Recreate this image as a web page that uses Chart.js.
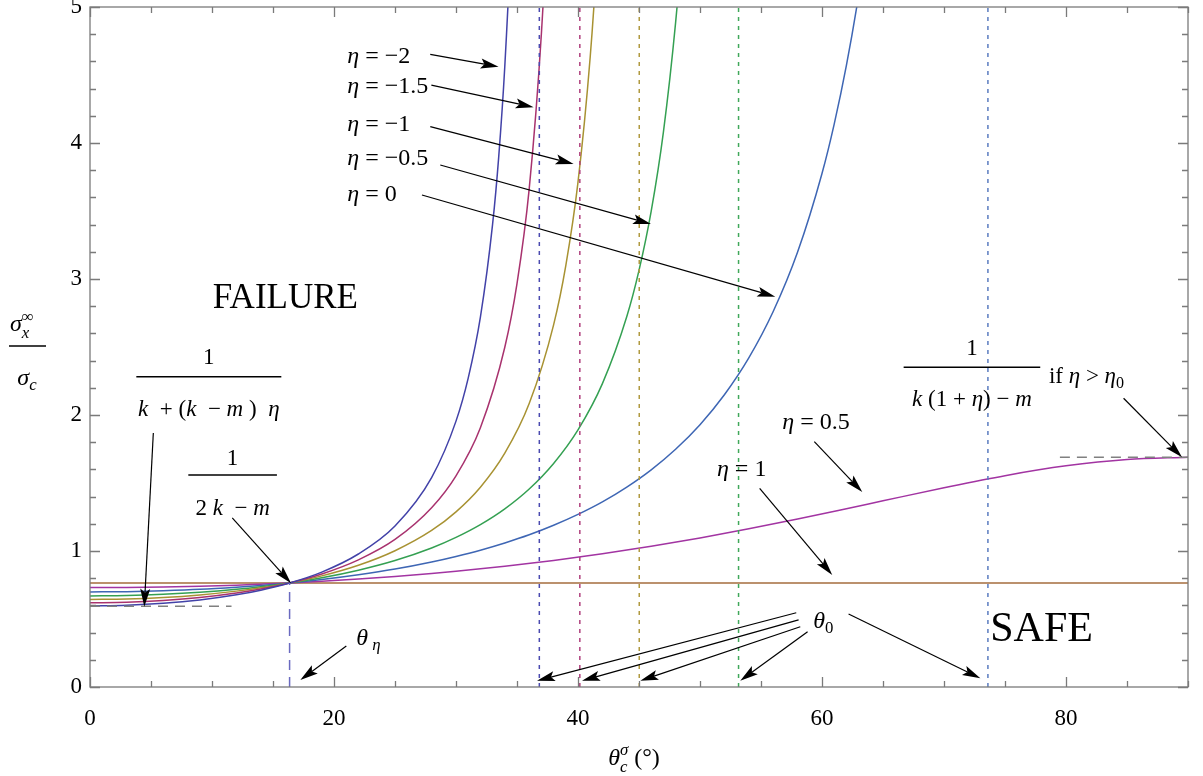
<!DOCTYPE html>
<html>
<head>
<meta charset="utf-8">
<script src="https://cdn.jsdelivr.net/npm/chart.js@4/dist/chart.umd.min.js"></script>
<style>
  html, body { margin: 0; padding: 0; background: #fff; }
  #wrap { width: 1203px; height: 776px; }
</style>
</head>
<body>
<div id="wrap"><canvas id="grafico" width="1203" height="776"></canvas></div>
<script>
const grafico = document.getElementById('grafico');
const fonte = '"Liberation Serif", "Times New Roman", serif';

// ticks
const xTicks = [0, 20, 40, 60, 80];
const yTicks = [0, 1, 2, 3, 4, 5];

// one curve per eta
const etaNames = ['−2', '−1.5', '−1', '−0.5', '0', '0.5', '1'];
const curveColors = ['#4242a8', '#a8326e', '#a89232', '#34a052', '#3e66b4', '#a234a2', '#a46c3c'];

const thetaEtaM2 = [0, 3, 6, 9, 12, 14, 16.36, 19, 22, 25, 28, 30, 31, 32, 33, 33.5, 34, 34.5, 35];
const sigmaEtaM2 = [0.596, 0.601, 0.615, 0.640, 0.678, 0.712, 0.765, 0.845, 0.978, 1.184, 1.540, 1.955, 2.271, 2.719, 3.403, 3.896, 4.564, 5.513, 6.99];

const thetaEtaM15 = [0, 3, 6, 9, 12, 14, 16.36, 19, 22, 25, 28, 30, 32, 34, 35, 36, 37, 37.5, 38];
const sigmaEtaM15 = [0.619, 0.623, 0.636, 0.658, 0.691, 0.721, 0.765, 0.831, 0.935, 1.085, 1.318, 1.553, 1.907, 2.498, 2.966, 3.663, 4.805, 5.698, 7.01];

const thetaEtaM1 = [0, 3, 6, 9, 12, 14, 16.36, 19, 22, 25, 28, 30, 32, 34, 36, 38, 39, 40, 41, 41.5, 42];
const sigmaEtaM1 = [0.644, 0.647, 0.658, 0.677, 0.705, 0.729, 0.765, 0.817, 0.895, 1.002, 1.151, 1.288, 1.469, 1.719, 2.084, 2.663, 3.099, 3.712, 4.632, 5.288, 6.17];

const thetaEtaM05 = [0, 3, 6, 9, 12, 14, 16.36, 19, 22, 25, 28, 30, 32, 34, 36, 38, 40, 42, 44, 45, 46, 47, 48, 48.5, 49];
const sigmaEtaM05 = [0.670, 0.673, 0.682, 0.697, 0.719, 0.738, 0.765, 0.803, 0.859, 0.930, 1.022, 1.100, 1.194, 1.310, 1.456, 1.644, 1.891, 2.231, 2.724, 3.063, 3.499, 4.080, 4.885, 5.423, 6.090];

const thetaEta0 = [0, 3, 6, 9, 12, 14, 16.36, 19, 22, 25, 28, 30, 32, 34, 36, 38, 40, 42, 44, 46, 48, 50, 52, 54, 56, 58, 60, 61, 62, 63, 64];
const sigmaEta0 = [0.699, 0.701, 0.708, 0.718, 0.734, 0.747, 0.765, 0.790, 0.825, 0.867, 0.919, 0.960, 1.006, 1.059, 1.119, 1.189, 1.269, 1.361, 1.470, 1.597, 1.748, 1.929, 2.149, 2.420, 2.761, 3.198, 3.776, 4.139, 4.570, 5.086, 5.717];

const thetaEta05 = [0, 3, 6, 9, 12, 14, 16.36, 19, 22, 25, 28, 30, 34, 38, 42, 46, 50, 54, 58, 62, 65, 70, 75, 80, 85, 90];
const sigmaEta05 = [0.731, 0.732, 0.735, 0.741, 0.749, 0.756, 0.765, 0.777, 0.794, 0.813, 0.835, 0.851, 0.888, 0.931, 0.980, 1.035, 1.096, 1.163, 1.235, 1.311, 1.369, 1.465, 1.554, 1.626, 1.673, 1.690];

const thetaEta1 = [0, 90];
const sigmaEta1 = [0.765, 0.765];

// critical angles and limits
const theta0 = [36.83, 40.15, 45.02, 53.16, 73.6];
const theta0Colors = ['#4a4ab0', '#b0407e', '#b09a40', '#40a85a', '#5a7cc0'];
const thetaEta = 16.36;
const sigmaCross = 0.765;
const lowLimit = 0.594;
const lowLimitEnd = 11.6;
const highLimit = 1.69;
const highLimitStart = 79.5;

const curveTheta = [thetaEtaM2, thetaEtaM15, thetaEtaM1, thetaEtaM05, thetaEta0, thetaEta05, thetaEta1];
const curveSigma = [sigmaEtaM2, sigmaEtaM15, sigmaEtaM1, sigmaEtaM05, sigmaEta0, sigmaEta05, sigmaEta1];

const pontos = (xs, ys) => xs.map((x, i) => ({ x: x, y: ys[i] }));

const datasets = [];

theta0.forEach((t, i) => {
    datasets.push({
        data: [{ x: t, y: 0 }, { x: t, y: 5 }],
        borderColor: theta0Colors[i],
        borderWidth: 1.5,
        borderDash: [4, 5],
        pointRadius: 0
    });
});

datasets.push({
    data: [{ x: thetaEta, y: 0 }, { x: thetaEta, y: sigmaCross }],
    borderColor: '#6a6ac0',
    borderWidth: 1.5,
    borderDash: [10, 7],
    pointRadius: 0
});
datasets.push({
    data: [{ x: 0, y: lowLimit }, { x: lowLimitEnd, y: lowLimit }],
    borderColor: '#808080',
    borderWidth: 1.5,
    borderDash: [10, 7],
    pointRadius: 0
});
datasets.push({
    data: [{ x: highLimitStart, y: highLimit }, { x: 90, y: highLimit }],
    borderColor: '#808080',
    borderWidth: 1.5,
    borderDash: [10, 7],
    pointRadius: 0
});

etaNames.forEach((nome, i) => {
    datasets.push({
        label: 'η = ' + nome,
        data: pontos(curveTheta[i], curveSigma[i]),
        borderColor: curveColors[i],
        borderWidth: 1.5,
        pointRadius: 0,
        cubicInterpolationMode: 'monotone'
    });
});

// text with italic / sub / superscript pieces
function fontOf(p, size) {
    return (p.it ? 'italic ' : '') + (size * (p.s || 1)).toFixed(1) + 'px ' + fonte;
}
function drawRich(ctx, x, yMid, parts, size, align) {
    let w = 0, prev = 0;
    parts.forEach(p => {
        ctx.font = fontOf(p, size);
        p._w = ctx.measureText(p.t).width;
        w += p.back ? Math.max(0, p._w - prev) : p._w;
        prev = p._w;
    });
    let cx = align === 'center' ? x - w / 2 : (align === 'right' ? x - w : x);
    const base = yMid + size * 0.33;
    let start = cx;
    prev = 0;
    ctx.textAlign = 'left';
    ctx.textBaseline = 'alphabetic';
    parts.forEach(p => {
        ctx.font = fontOf(p, size);
        if (p.back) {
            ctx.fillText(p.t, start, base + (p.dy || 0) * size);
            cx = start + Math.max(prev, p._w);
        } else {
            start = cx;
            ctx.fillText(p.t, cx, base + (p.dy || 0) * size);
            cx += p._w;
        }
        prev = p._w;
    });
}
function arrow(ctx, x1, y1, x2, y2) {
    const ang = Math.atan2(y2 - y1, x2 - x1);
    const len = 18, half = 5;
    ctx.beginPath();
    ctx.moveTo(x1, y1);
    ctx.lineTo(x2 - Math.cos(ang) * len * 0.8, y2 - Math.sin(ang) * len * 0.8);
    ctx.stroke();
    ctx.beginPath();
    ctx.moveTo(x2, y2);
    ctx.lineTo(x2 - Math.cos(ang) * len - Math.sin(ang) * half, y2 - Math.sin(ang) * len + Math.cos(ang) * half);
    ctx.lineTo(x2 - Math.cos(ang) * len * 0.8, y2 - Math.sin(ang) * len * 0.8);
    ctx.lineTo(x2 - Math.cos(ang) * len + Math.sin(ang) * half, y2 - Math.sin(ang) * len - Math.cos(ang) * half);
    ctx.closePath();
    ctx.fill();
}

const I = t => ({ t: t, it: true });
const N = t => ({ t: t });

// eta labels and their arrows, in data coordinates
const etaLabels = [
    { x: 21.09, y: 4.647, from: [27.89, 4.652], to: [33.49, 4.561] },
    { x: 21.09, y: 4.426, from: [27.98, 4.426], to: [36.36, 4.263] },
    { x: 21.09, y: 4.147, from: [27.89, 4.120], to: [39.64, 3.846] },
    { x: 21.09, y: 3.897, from: [28.71, 3.838], to: [45.98, 3.404] },
    { x: 21.09, y: 3.632, from: [27.21, 3.618], to: [56.17, 2.870] }
];

const decoracao = {
    id: 'decoracao',
    afterDatasetsDraw(chart) {
        const ctx = chart.ctx;
        const { left, right, top, bottom } = chart.chartArea;
        const sx = chart.scales.x, sy = chart.scales.y;
        ctx.save();
        ctx.strokeStyle = '#7a7a7a';
        ctx.lineWidth = 1.3;
        ctx.strokeRect(left, top, right - left, bottom - top);
        ctx.beginPath();
        for (let v = 0; v <= 90; v += 5) {
            const len = v % 20 === 0 ? 10 : 6;
            const x = Math.round(sx.getPixelForValue(v)) + 0.5;
            ctx.moveTo(x, bottom); ctx.lineTo(x, bottom - len);
            ctx.moveTo(x, top); ctx.lineTo(x, top + len);
        }
        for (let k = 0; k <= 25; k++) {
            const len = k % 5 === 0 ? 10 : 6;
            const y = Math.round(sy.getPixelForValue(k * 0.2)) + 0.5;
            ctx.moveTo(left, y); ctx.lineTo(left + len, y);
            ctx.moveTo(right, y); ctx.lineTo(right - len, y);
        }
        ctx.stroke();
        ctx.restore();
    },
    afterDraw(chart) {
        const ctx = chart.ctx;
        const sx = chart.scales.x, sy = chart.scales.y;
        const X = v => sx.getPixelForValue(v);
        const Y = v => sy.getPixelForValue(v);
        const seta = (a, b) => arrow(ctx, X(a[0]), Y(a[1]), X(b[0]), Y(b[1]));
        const frac = (cx, cy, half, num, den, size, dn, dd) => {
            const x = X(cx), y = Y(cy);
            drawRich(ctx, x, y + dn, num, size, 'center');
            ctx.beginPath();
            ctx.lineWidth = 1.5;
            ctx.moveTo(x - half, y); ctx.lineTo(x + half, y);
            ctx.stroke();
            drawRich(ctx, x, y + dd, den, size, 'center');
            ctx.lineWidth = 1.2;
        };
        ctx.save();
        ctx.fillStyle = '#000';
        ctx.strokeStyle = '#000';
        ctx.lineWidth = 1.2;

        etaLabels.forEach((l, i) => {
            drawRich(ctx, X(l.x), Y(l.y), [I('η'), N(' = ' + etaNames[i])], 24, 'left');
            seta(l.from, l.to);
        });

        drawRich(ctx, X(56.75), Y(1.956), [I('η'), N(' = ' + etaNames[5])], 24, 'left');
        seta([59.37, 1.804], [63.30, 1.434]);
        drawRich(ctx, X(51.39), Y(1.608), [I('η'), N(' = ' + etaNames[6])], 24, 'left');
        seta([54.89, 1.461], [60.84, 0.824]);

        drawRich(ctx, X(16.01), Y(2.875), [N('FAILURE')], 35, 'center');
        drawRich(ctx, X(78.0), Y(0.441), [N('SAFE')], 42, 'center');

        frac(9.74, 2.282, 72.5, [N('1')],
            [I('k'), N('  + ('), I('k'), N('  − '), I('m'), N(' )  '), I('η')], 23, -20, 32);
        seta([5.19, 1.868], [4.45, 0.590]);

        frac(11.69, 1.559, 44.3, [N('1')], [N('2 '), I('k'), N('  − '), I('m')], 23, -18, 32);
        seta([11.66, 1.243], [16.48, 0.7625]);

        frac(72.29, 2.351, 68.3, [N('1')], [I('k'), N(' (1 + '), I('η'), N(') − '), I('m')], 23, -20, 31);
        drawRich(ctx, X(78.6), Y(2.292), [N('if '), I('η'), N(' > '), I('η'), { t: '0', s: 0.7, dy: 0.22 }], 23, 'left');
        seta([84.72, 2.123], [89.51, 1.689]);

        drawRich(ctx, X(21.83), Y(0.370), [I('θ'), { t: ' η', it: true, s: 0.7, dy: 0.22 }], 24, 'left');
        seta([21.01, 0.301], [17.24, 0.051]);

        drawRich(ctx, X(59.28), Y(0.493), [I('θ'), { t: '0', s: 0.7, dy: 0.22 }], 24, 'left');
        seta([57.89, 0.546], [36.64, 0.046]);
        seta([58.08, 0.493], [40.33, 0.046]);
        seta([58.22, 0.443], [45.11, 0.046]);
        seta([58.82, 0.407], [53.30, 0.046]);
        seta([62.18, 0.537], [72.98, 0.064]);

        // axis titles
        drawRich(ctx, 10, 323, [I('σ'), { t: 'x', it: true, s: 0.7, dy: 0.28 }, { t: '∞', s: 0.7, dy: -0.38, back: true }], 24, 'left');
        ctx.lineWidth = 1.5;
        ctx.beginPath(); ctx.moveTo(9, 346); ctx.lineTo(46, 346); ctx.stroke();
        drawRich(ctx, 27, 377, [I('σ'), { t: 'c', it: true, s: 0.7, dy: 0.22 }], 24, 'center');

        drawRich(ctx, 634, 757, [I('θ'), { t: 'c', it: true, s: 0.7, dy: 0.28 }, { t: 'σ', it: true, s: 0.7, dy: -0.4, back: true }, N(' (°)')], 24, 'center');
        ctx.restore();
    }
};

// keep the plot frame where the axes are, no extra label padding
const semPadding = s => { s.paddingTop = 0; s.paddingBottom = 0; s.paddingLeft = 0; s.paddingRight = 0; };

new Chart(grafico, {
    type: 'line',
    data: { datasets: datasets },
    options: {
        responsive: false,
        animation: false,
        devicePixelRatio: 1,
        layout: { padding: { top: 7, right: 15, left: 0, bottom: 0 } },
        plugins: { legend: { display: false }, tooltip: { enabled: false } },
        scales: {
            x: {
                type: 'linear',
                min: 0,
                max: 90,
                grid: { display: false, drawTicks: false },
                border: { display: false },
                afterBuildTicks: s => { s.ticks = xTicks.map(v => ({ value: v })); },
                afterFit: s => { s.height = 89; semPadding(s); },
                ticks: {
                    padding: 20,
                    color: '#000',
                    maxRotation: 0,
                    font: { family: fonte, size: 23, lineHeight: 1 }
                }
            },
            y: {
                type: 'linear',
                min: 0,
                max: 5,
                grid: { display: false, drawTicks: false },
                border: { display: false },
                afterBuildTicks: s => { s.ticks = yTicks.map(v => ({ value: v })); },
                afterFit: s => { s.width = 90; semPadding(s); },
                ticks: {
                    padding: 8,
                    color: '#000',
                    font: { family: fonte, size: 23, lineHeight: 0.5 }
                }
            }
        }
    },
    plugins: [decoracao]
});
</script>
</body>
</html>
